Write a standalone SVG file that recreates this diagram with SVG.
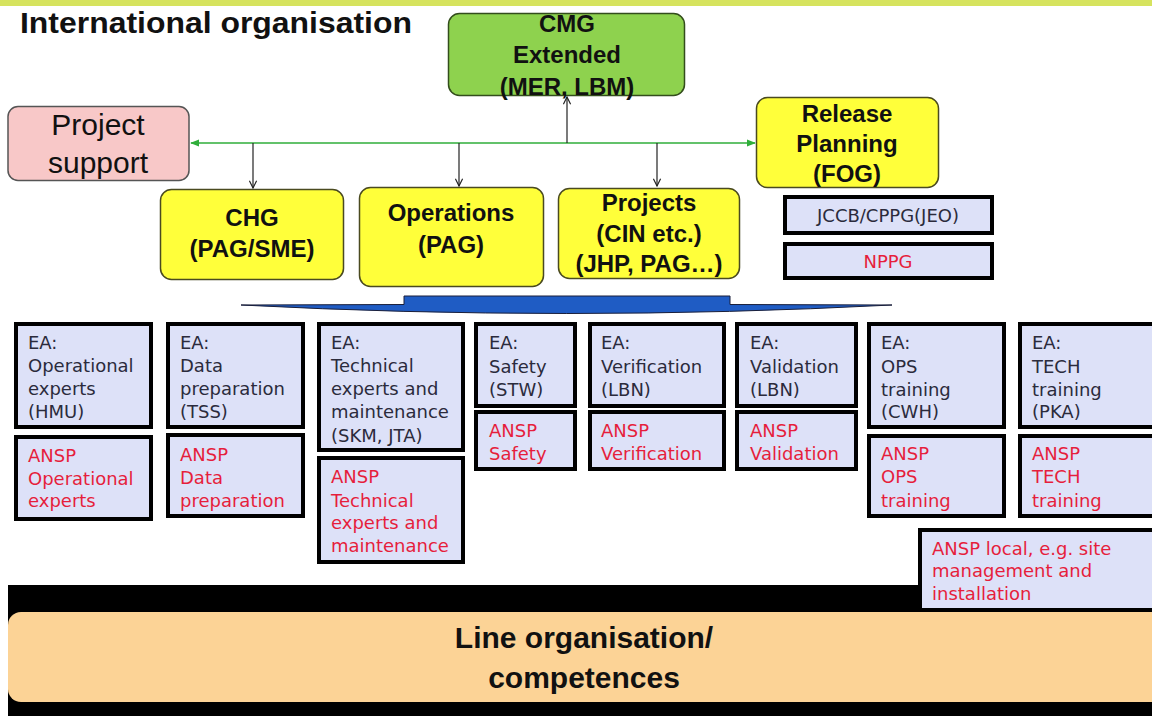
<svg xmlns="http://www.w3.org/2000/svg" width="1152" height="716" viewBox="0 0 1152 716">
  <defs>
    <marker id="arrOpen" viewBox="0 0 10 10" refX="9" refY="5" markerWidth="9" markerHeight="9" orient="auto-start-reverse" markerUnits="userSpaceOnUse">
      <path d="M1,1 L9,5 L1,9" fill="none" stroke="#222" stroke-width="1.3"/>
    </marker>
    <marker id="arrGreen" viewBox="0 0 10 10" refX="9" refY="5" markerWidth="9" markerHeight="9" orient="auto-start-reverse" markerUnits="userSpaceOnUse">
      <path d="M0,1 L10,5 L0,9 Z" fill="#2fae3a"/>
    </marker>
    <style>
      .title { font-family: "Liberation Sans", Arial, sans-serif; font-weight: bold; fill: #111; }
      .bold { font-family: "Liberation Sans", Arial, sans-serif; font-weight: bold; font-size: 24px; fill: #111; text-anchor: middle; }
      .plain { font-family: "Liberation Sans", Arial, sans-serif; font-size: 30px; fill: #111; text-anchor: middle; }
      .yellow { fill: #ffff3a; stroke: #4a4a20; stroke-width: 1.5; }
      .ea { fill: #dde1f8; stroke: #000; stroke-width: 4; }
      .t { font-family: "DejaVu Sans", Tahoma, sans-serif; font-size: 18px; fill: #2b2b3c; }
      .r { font-family: "DejaVu Sans", Tahoma, sans-serif; font-size: 18px; fill: #e61e3c; }
      .conn { stroke: #222; stroke-width: 1.2; fill: none; }
    </style>
  </defs>

  <!-- header strip -->
  <rect x="0" y="0" width="1152" height="6" fill="#d6e35e"/>
  <text class="title" x="20" y="33" font-size="29" textLength="392" lengthAdjust="spacingAndGlyphs">International organisation</text>

  <!-- top level groups -->
  <g id="cmg">
    <rect x="448.5" y="13.5" width="236" height="82" rx="11" fill="#8ed24e" stroke="#334d1c" stroke-width="1.5"/>
    <text class="bold" x="567" y="32">CMG</text>
    <text class="bold" x="567" y="63">Extended</text>
    <text class="bold" x="567" y="95">(MER, LBM)</text>
  </g>

  <g id="project-support">
    <rect x="8" y="106.5" width="181" height="74" rx="10" fill="#f8c8c8" stroke="#555" stroke-width="1.5"/>
    <text class="plain" x="98" y="135">Project</text>
    <text class="plain" x="98" y="173">support</text>
  </g>

  <g id="release-planning">
    <rect class="yellow" x="756.5" y="97.5" width="182" height="90" rx="11"/>
    <text class="bold" x="847" y="122">Release</text>
    <text class="bold" x="847" y="152">Planning</text>
    <text class="bold" x="847" y="182">(FOG)</text>
  </g>

  <g id="chg">
    <rect class="yellow" x="160.5" y="189.5" width="183" height="90" rx="11"/>
    <text class="bold" x="252" y="226">CHG</text>
    <text class="bold" x="252" y="257">(PAG/SME)</text>
  </g>

  <g id="operations">
    <rect class="yellow" x="359.5" y="187.5" width="184" height="99" rx="11"/>
    <text class="bold" x="451" y="221">Operations</text>
    <text class="bold" x="451" y="253">(PAG)</text>
  </g>

  <g id="projects">
    <rect class="yellow" x="558.5" y="188.5" width="181" height="90" rx="11"/>
    <text class="bold" x="649" y="211">Projects</text>
    <text class="bold" x="649" y="242">(CIN etc.)</text>
    <text class="bold" x="649" y="272">(JHP, PAG…)</text>
  </g>

  <g id="jccb">
    <rect class="ea" x="785" y="197" width="207" height="36"/>
    <text class="t" x="888" y="222" font-size="19" text-anchor="middle">JCCB/CPPG(JEO)</text>
  </g>

  <g id="nppg">
    <rect class="ea" x="785" y="244" width="207" height="34"/>
    <text class="r" x="888" y="268" font-size="19" text-anchor="middle">NPPG</text>
  </g>

  <!-- connectors -->
  <g id="connectors">
    <line x1="191" y1="143" x2="755" y2="143" stroke="#2fae3a" stroke-width="1.5" marker-start="url(#arrGreen)" marker-end="url(#arrGreen)"/>
    <line class="conn" x1="567" y1="143" x2="567" y2="97" marker-end="url(#arrOpen)"/>
    <line class="conn" x1="253" y1="143" x2="253" y2="188" marker-end="url(#arrOpen)"/>
    <line class="conn" x1="459" y1="143" x2="459" y2="186" marker-end="url(#arrOpen)"/>
    <line class="conn" x1="657" y1="143" x2="657" y2="186" marker-end="url(#arrOpen)"/>
    <!-- broad downward arrow -->
    <path d="M404,296 H730 V304.5 L892,305 Q567,322 241,305 L404,304.5 Z" fill="#1f5cc4" stroke="#1a1f3a" stroke-width="1"/>
  </g>

  <!-- line organisation band -->
  <g id="line-organisation">
    <rect x="8" y="585" width="1144" height="131" fill="#000"/>
    <rect x="8" y="612" width="1160" height="90" rx="13" fill="#fcd396"/>
    <text class="title" x="584" y="648" font-size="30" text-anchor="middle">Line organisation/</text>
    <text class="title" x="584" y="688" font-size="30" text-anchor="middle">competences</text>
  </g>

  <!-- expert areas -->
  <g id="ea-operational">
    <rect class="ea" x="16" y="324" width="135" height="103"/>
    <text class="t" x="28" y="349">EA:</text>
    <text class="t" x="28" y="372">Operational</text>
    <text class="t" x="28" y="395">experts</text>
    <text class="t" x="28" y="418">(HMU)</text>
  </g>
  <g id="ansp-operational">
    <rect class="ea" x="16" y="437" width="135" height="82"/>
    <text class="r" x="28" y="462">ANSP</text>
    <text class="r" x="28" y="485">Operational</text>
    <text class="r" x="28" y="507">experts</text>
  </g>

  <g id="ea-data">
    <rect class="ea" x="168" y="324" width="135" height="103"/>
    <text class="t" x="180" y="349">EA:</text>
    <text class="t" x="180" y="372">Data</text>
    <text class="t" x="180" y="395">preparation</text>
    <text class="t" x="180" y="418">(TSS)</text>
  </g>
  <g id="ansp-data">
    <rect class="ea" x="168" y="435" width="135" height="81"/>
    <text class="r" x="180" y="461">ANSP</text>
    <text class="r" x="180" y="484">Data</text>
    <text class="r" x="180" y="507">preparation</text>
  </g>

  <g id="ea-technical">
    <rect class="ea" x="319" y="324" width="144" height="126"/>
    <text class="t" x="331" y="349">EA:</text>
    <text class="t" x="331" y="372">Technical</text>
    <text class="t" x="331" y="395">experts and</text>
    <text class="t" x="331" y="418" font-size="17">maintenance</text>
    <text class="t" x="331" y="442" font-size="17">(SKM, JTA)</text>
  </g>
  <g id="ansp-technical">
    <rect class="ea" x="319" y="458" width="144" height="104"/>
    <text class="r" x="331" y="483">ANSP</text>
    <text class="r" x="331" y="507">Technical</text>
    <text class="r" x="331" y="529">experts and</text>
    <text class="r" x="331" y="552" font-size="17">maintenance</text>
  </g>

  <g id="ea-safety">
    <rect class="ea" x="476" y="324" width="99" height="82"/>
    <text class="t" x="489" y="349">EA:</text>
    <text class="t" x="489" y="373">Safety</text>
    <text class="t" x="489" y="396">(STW)</text>
  </g>
  <g id="ansp-safety">
    <rect class="ea" x="476" y="412" width="99" height="57"/>
    <text class="r" x="489" y="437">ANSP</text>
    <text class="r" x="489" y="460">Safety</text>
  </g>

  <g id="ea-verification">
    <rect class="ea" x="590" y="324" width="134" height="82"/>
    <text class="t" x="601" y="349">EA:</text>
    <text class="t" x="601" y="373">Verification</text>
    <text class="t" x="601" y="396">(LBN)</text>
  </g>
  <g id="ansp-verification">
    <rect class="ea" x="590" y="412" width="134" height="57"/>
    <text class="r" x="601" y="437">ANSP</text>
    <text class="r" x="601" y="460">Verification</text>
  </g>

  <g id="ea-validation">
    <rect class="ea" x="737" y="324" width="119" height="82"/>
    <text class="t" x="750" y="349">EA:</text>
    <text class="t" x="750" y="373">Validation</text>
    <text class="t" x="750" y="396">(LBN)</text>
  </g>
  <g id="ansp-validation">
    <rect class="ea" x="737" y="412" width="119" height="57"/>
    <text class="r" x="750" y="437">ANSP</text>
    <text class="r" x="750" y="460">Validation</text>
  </g>

  <g id="ea-ops-training">
    <rect class="ea" x="869" y="324" width="135" height="103"/>
    <text class="t" x="881" y="349">EA:</text>
    <text class="t" x="881" y="373">OPS</text>
    <text class="t" x="881" y="396">training</text>
    <text class="t" x="881" y="418">(CWH)</text>
  </g>
  <g id="ansp-ops-training">
    <rect class="ea" x="869" y="436" width="135" height="80"/>
    <text class="r" x="881" y="460">ANSP</text>
    <text class="r" x="881" y="483">OPS</text>
    <text class="r" x="881" y="507">training</text>
  </g>

  <g id="ea-tech-training">
    <rect class="ea" x="1020" y="324" width="150" height="103"/>
    <text class="t" x="1032" y="349">EA:</text>
    <text class="t" x="1032" y="373">TECH</text>
    <text class="t" x="1032" y="396">training</text>
    <text class="t" x="1032" y="418">(PKA)</text>
  </g>
  <g id="ansp-tech-training">
    <rect class="ea" x="1020" y="436" width="150" height="80"/>
    <text class="r" x="1032" y="460">ANSP</text>
    <text class="r" x="1032" y="483">TECH</text>
    <text class="r" x="1032" y="507">training</text>
  </g>

  <g id="ansp-local">
    <rect class="ea" x="920" y="530" width="250" height="80"/>
    <text class="r" x="932" y="555">ANSP local, e.g. site</text>
    <text class="r" x="932" y="577">management and</text>
    <text class="r" x="932" y="600">installation</text>
  </g>
</svg>
